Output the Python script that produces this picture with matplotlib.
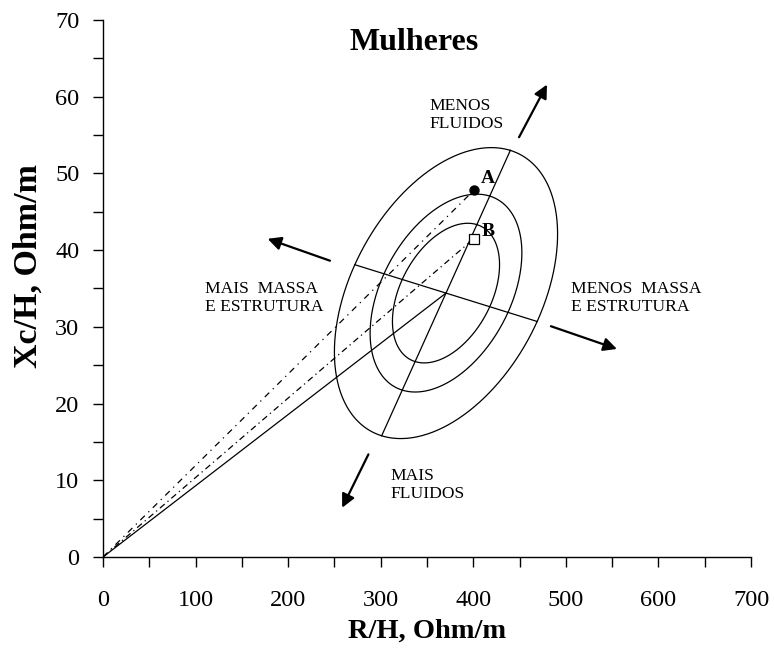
import numpy as np
import matplotlib
matplotlib.use('Agg')
import matplotlib.pyplot as plt

plt.rcParams['font.family'] = ['Liberation Serif', 'DejaVu Serif']

# reference population (women): mean point and ellipse half-axes in data units
mean_r, mean_xc = 370.5, 34.4
major_half = [69.5, 18.6]
minor_half = [98.5, -3.7]
ellipse_levels = [0.48, 0.68, 1.0]   # 50%, 75%, 95%

# patients
point_names = ['A', 'B']
point_r = [400.6, 400.6]
point_xc = [47.8, 41.5]

# arrows (start, end) and labels
arrow_starts = [(448, 54.4), (248, 38.5), (481, 30.2), (288, 13.7)]
arrow_ends = [(481, 61.9), (175, 41.6), (558, 27.0), (257, 6.1)]
label_texts = ['MENOS\nFLUIDOS', 'MAIS  MASSA\nE ESTRUTURA', 'MENOS  MASSA\nE ESTRUTURA', 'MAIS\nFLUIDOS']
label_pos = [(353, 57.6), (110, 33.8), (506, 33.8), (310, 9.4)]

fig = plt.figure(figsize=(7.74, 6.51), dpi=100)
ax = fig.add_axes([0.1331, 0.1444, 0.8372, 0.8249])

t = np.linspace(0, 2 * np.pi, 400)
for k in ellipse_levels:
    ex = mean_r + k * (major_half[0] * np.cos(t) + minor_half[0] * np.sin(t))
    ey = mean_xc + k * (major_half[1] * np.cos(t) + minor_half[1] * np.sin(t))
    ax.plot(ex, ey, color='black', lw=0.9)

# axes of the 95% ellipse
ax.plot([mean_r - major_half[0], mean_r + major_half[0]],
        [mean_xc - major_half[1], mean_xc + major_half[1]], color='black', lw=0.9)
ax.plot([mean_r - minor_half[0], mean_r + minor_half[0]],
        [mean_xc - minor_half[1], mean_xc + minor_half[1]], color='black', lw=0.9)

# vectors from origin
ax.plot([0, mean_r], [0, mean_xc], color='black', lw=0.9)
ax.plot([0, point_r[0]], [0, point_xc[0]], color='black', lw=0.9, ls=(0, (5, 4, 1, 4)))
ax.plot([0, point_r[1]], [0, point_xc[1]], color='black', lw=0.9, ls=(0, (5, 3, 1, 3)))

ax.plot(point_r[0], point_xc[0], 'o', color='black', ms=6.5, zorder=5)
ax.plot(point_r[1], point_xc[1], 's', mfc='white', mec='black', ms=7, mew=0.9, zorder=5)
ax.text(point_r[0] + 8, point_xc[0] + 1.0, point_names[0], fontsize=14, fontweight='bold')
ax.text(point_r[1] + 8, point_xc[1] + 0.4, point_names[1], fontsize=14, fontweight='bold')

for s, e in zip(arrow_starts, arrow_ends):
    ax.annotate('', xy=e, xytext=s,
                arrowprops=dict(arrowstyle='-|>', color='black', lw=1.6, mutation_scale=20))

for txt, p in zip(label_texts, label_pos):
    ax.text(p[0], p[1], txt, fontsize=12.6, ha='left', va='center', linespacing=1.15)

ax.text(336, 67.1, 'Mulheres', fontsize=23, fontweight='bold', ha='center', va='center')

ax.set_xlim(0, 700)
ax.set_ylim(0, 70)
ax.set_xticks(np.arange(0, 701, 100))
ax.set_xticks(np.arange(50, 701, 100), minor=True)
ax.set_yticks(np.arange(0, 71, 10))
ax.set_yticks(np.arange(5, 71, 10), minor=True)
ax.tick_params(which='both', direction='out', length=7, width=1, labelsize=17.5)
ax.tick_params(axis='x', pad=17)
ax.tick_params(axis='y', pad=10)
for side in ['top', 'right']:
    ax.spines[side].set_visible(False)
for side in ['left', 'bottom']:
    ax.spines[side].set_linewidth(1)

ax.set_xlabel('R/H, Ohm/m', fontsize=20.5, fontweight='bold', labelpad=5)
ax.set_ylabel('Xc/H, Ohm/m', fontsize=24.5, fontweight='bold')
ax.yaxis.set_label_coords(-0.092, 0.542)

fig.savefig('out.png', dpi=100)
